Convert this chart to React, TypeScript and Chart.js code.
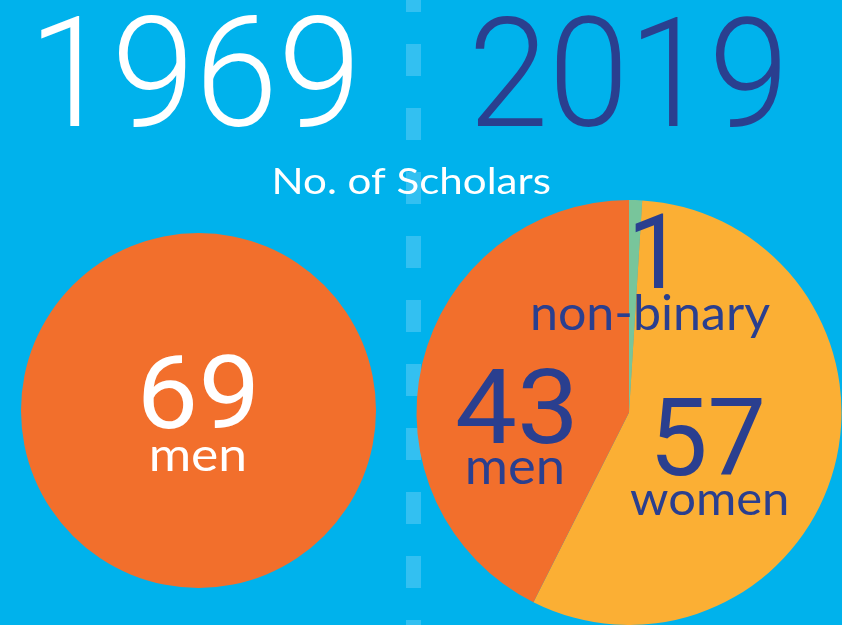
import React, { useEffect, useRef } from "react";
import { Chart, registerables } from "chart.js";

Chart.register(...registerables);

// ---- data ----
const yearLeft = "1969";
const yearRight = "2019";
const subtitle = "No. of Scholars";
const leftLabels = ["men"];
const leftValues = [69];
const rightLabels = ["non-binary", "women", "men"];
const rightValues = [1, 57, 43];

// ---- styles ----
const W = 842;
const H = 625;
const BG = "#00B2EC";
const DASH = "#33C0F1";
const ORANGE = "#F26F2C";
const YELLOW = "#FBAF34";
const GREEN = "#78C59B";
const NAVY = "#2A3F8F";
const WHITE = "#FFFFFF";
const FONT = 'Lato, "Open Sans", "DejaVu Sans", sans-serif';
const NUM_FONT = 'Roboto, "Open Sans", "DejaVu Sans", sans-serif';

const leftColors = [ORANGE];
const rightColors = [GREEN, YELLOW, ORANGE];

// text boxes: [left, right, top, baseline] for number and label
const leftTextBoxes = [
  { num: [143, 253, 353, 428], lab: [152, 244, 447, 471] },
];
const rightTextBoxes = [
  { num: [635, 664, 213, 288], lab: [533, 770, 294, 330] },
  { num: [657, 762, 398, 475], lab: [630, 787, 490, 515] },
  { num: [457, 572, 367, 443], lab: [468, 562, 458, 484] },
];

function fitText(
  ctx: CanvasRenderingContext2D,
  text: string,
  box: number[],
  weight: number,
  color: string,
  family: string = FONT
) {
  const [left, right, top, baseline] = box;
  ctx.save();
  ctx.textAlign = "left";
  ctx.textBaseline = "alphabetic";
  ctx.font = `${weight} 100px ${family}`;
  const m = ctx.measureText(text);
  const size = (100 * (baseline - top)) / m.actualBoundingBoxAscent;
  ctx.font = `${weight} ${size}px ${family}`;
  const m2 = ctx.measureText(text);
  const ink = m2.actualBoundingBoxLeft + m2.actualBoundingBoxRight;
  const sx = (right - left) / ink;
  ctx.translate(left, baseline);
  ctx.scale(sx, 1);
  ctx.fillStyle = color;
  ctx.fillText(text, m2.actualBoundingBoxLeft, 0);
  ctx.restore();
}

export default function App() {
  const leftRef = useRef<HTMLCanvasElement>(null);
  const rightRef = useRef<HTMLCanvasElement>(null);

  useEffect(() => {
    const commonOptions = (padding: any) => ({
      responsive: false,
      animation: false as const,
      events: [] as any[],
      layout: { padding },
      plugins: { legend: { display: false }, tooltip: { enabled: false } },
      elements: { arc: { borderWidth: 0, hoverOffset: 0, offset: 0 } },
    });

    const bgPlugin = {
      id: "bgDecor",
      beforeDatasetsDraw(chart: any) {
        const ctx = chart.ctx as CanvasRenderingContext2D;
        ctx.save();
        ctx.fillStyle = DASH;
        for (let y = -20; y < H; y += 64) ctx.fillRect(406, y, 15, 32);
        ctx.restore();
      },
      afterDraw(chart: any) {
        const ctx = chart.ctx as CanvasRenderingContext2D;
        fitText(ctx, yearLeft, [41, 352, 15, 126], 300, WHITE, NUM_FONT);
        fitText(ctx, yearRight, [475, 780, 15, 126], 300, NAVY, NUM_FONT);
        fitText(ctx, subtitle, [275, 550, 167, 194], 400, WHITE);
        leftValues.forEach((v, i) => {
          const b = leftTextBoxes[i];
          fitText(ctx, String(v), b.num, 400, WHITE, NUM_FONT);
          fitText(ctx, leftLabels[i], b.lab, 400, WHITE);
        });
      },
    };

    const rightPlugin = {
      id: "rightLabels",
      afterDraw(chart: any) {
        const ctx = chart.ctx as CanvasRenderingContext2D;
        rightValues.forEach((v, i) => {
          const b = rightTextBoxes[i];
          fitText(ctx, String(v), b.num, 400, NAVY, NUM_FONT);
          fitText(ctx, rightLabels[i], b.lab, 400, NAVY);
        });
      },
    };

    const left = new Chart(leftRef.current!, {
      type: "pie",
      data: {
        labels: leftLabels,
        datasets: [{ data: leftValues, backgroundColor: leftColors }],
      },
      options: commonOptions({ left: 21, top: 233, right: W - 376, bottom: H - 588 }) as any,
      plugins: [bgPlugin],
    });

    const right = new Chart(rightRef.current!, {
      type: "pie",
      data: {
        labels: rightLabels,
        datasets: [{ data: rightValues, backgroundColor: rightColors }],
      },
      options: commonOptions({ left: 416, top: 200, right: 0, bottom: 0 }) as any,
      plugins: [rightPlugin],
    });

    return () => {
      left.destroy();
      right.destroy();
    };
  }, []);

  return (
    <div
      style={{
        position: "absolute",
        left: 0,
        top: 0,
        width: W,
        height: H,
        background: BG,
        overflow: "hidden",
      }}
    >
      <canvas
        ref={leftRef}
        width={W}
        height={H}
        style={{ position: "absolute", left: 0, top: 0, width: W, height: H }}
      />
      <canvas
        ref={rightRef}
        width={W}
        height={H}
        style={{ position: "absolute", left: 0, top: 0, width: W, height: H }}
      />
    </div>
  );
}
